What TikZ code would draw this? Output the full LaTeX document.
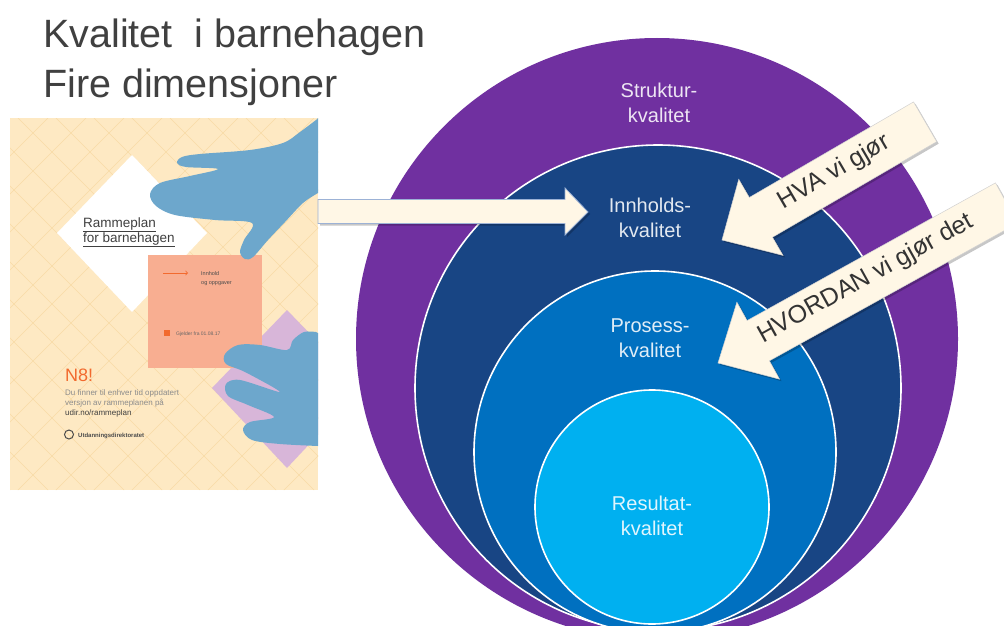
\documentclass[tikz,border=0pt]{standalone}
\usepackage{fontspec}
\setmainfont{Liberation Sans}
\definecolor{purp}{HTML}{7030A0}
\definecolor{dblue}{HTML}{184584}
\definecolor{mblue}{HTML}{0070C0}
\definecolor{lblue}{HTML}{00B0F0}
\definecolor{cream}{HTML}{FFF7E6}
\definecolor{coverc}{HTML}{FEE9C3}
\definecolor{gridc}{HTML}{F8DBA6}
\definecolor{handc}{HTML}{6DA7CC}
\definecolor{salmon}{HTML}{F8AE91}
\definecolor{lilac}{HTML}{D8B6D9}
\definecolor{orangec}{HTML}{F26A2E}
\definecolor{titlec}{HTML}{404040}
\definecolor{arrline}{HTML}{9CB2D6}
\tikzset{
  lab/.style={text=white, text opacity=0.88, font=\fontsize{20}{25}\selectfont, inner sep=0pt, anchor=base},
  arrtxt/.style={text=black!80, font=\fontsize{25}{28}\selectfont, inner sep=0pt},
  tiny/.style={inner sep=0pt, anchor=base west},
  ring/.style={draw=white, line width=1.6pt},
  arrfill/.style={fill=cream, draw=black!18, line width=0.5pt},
  arrshadow/.style={fill=black, opacity=0.22}
}
\begin{document}
\begin{tikzpicture}[x=1pt,y=-1pt]
\useasboundingbox (0,0) rectangle (1004,626);
\clip (0,0) rectangle (1004,626);
\fill[white] (0,0) rectangle (1004,626);

% title
\node[tiny, text=titlec, font=\fontsize{39.5}{45}\selectfont] (t1) at (43,48) {Kvalitet\ \ i barnehagen};
\node[tiny, text=titlec, font=\fontsize{39.5}{45}\selectfont] (t2) at (43,97) {Fire dimensjoner};

% nested circles
\fill[purp] (657,339) circle (301pt);
\filldraw[fill=dblue, ring] (658,388) circle (243pt);
\filldraw[fill=mblue, ring] (655,452) circle (181pt);
\filldraw[fill=lblue, ring] (652,507) circle (117pt);

\node[lab] (s1) at (659,97) {Struktur-};
\node[lab] (s2) at (659,122) {kvalitet};
\node[lab] (i1) at (650,212) {Innholds-};
\node[lab] (i2) at (650,237) {kvalitet};
\node[lab] (p1) at (650,332) {Prosess-};
\node[lab] (p2) at (650,357) {kvalitet};
\node[lab] (r1) at (652,510) {Resultat-};
\node[lab] (r2) at (652,535) {kvalitet};

% book cover
\begin{scope}
\clip (10,118) rectangle (318,490);
\fill[coverc] (10,118) rectangle (318,490);
\foreach \k in {-400,-362,...,330} {
  \draw[gridc, line width=0.6pt] (\k,118) -- ++(372,372);
  \draw[gridc, line width=0.6pt] (\k+372,118) -- ++(-372,372);
}
\fill[white] (132,155) -- (57,233) -- (132,312) -- (207,233) -- cycle;
\fill[lilac] (287,310) -- (212,388) -- (287,468) -- (362,388) -- cycle;
\fill[salmon] (148,255) rectangle (262,368);
% upper hand
\fill[handc] (318,192) -- (318,118) -- plot[smooth, tension=0.55] coordinates {
  (316,120) (300,132) (283,143) (250,150) (200,154) (182,157) (177,163) (186,167)
  (218,169) (190,176) (160,183) (150,194) (156,206) (175,215) (215,220) (252,223)
  (244,240) (240,252) (245,259) (253,257) (268,240) (285,222) (303,203) (318,193)} -- cycle;
% lower hand
\fill[handc] (318,446) -- (318,333) -- plot[smooth, tension=0.55] coordinates {
  (316,332) (304,332) (293,340) (287,350) (260,345) (238,345) (225,354) (226,364)
  (245,372) (280,392) (240,380) (226,384) (228,396) (248,405) (274,417) (250,422)
  (243,430) (252,440) (280,444) (318,446)} -- cycle;
\end{scope}

\node[tiny, text=black!75, font=\fontsize{13.5}{15}\selectfont] (rp1) at (83,227) {\underline{Rammeplan}};
\node[tiny, text=black!75, font=\fontsize{13.5}{15}\selectfont] (rp2) at (83,242) {\underline{for barnehagen}};
\draw[orangec, line width=0.8pt, ->] (163,273) -- (188,273);
\node[tiny, text=black!70, font=\fontsize{5.5}{6}\selectfont] (ih1) at (201,275) {Innhold};
\node[tiny, text=black!70, font=\fontsize{5.5}{6}\selectfont] (ih2) at (201,284) {og oppgaver};
\fill[orangec] (164,330) rectangle (170,336);
\node[tiny, text=black!60, font=\fontsize{5}{6}\selectfont] (gj) at (176,335.5) {Gjelder fra 01.08.17};
\node[tiny, text=orangec, font=\fontsize{18}{18}\selectfont] (nb) at (65,381) {N8!};
\node[tiny, text=black!45, font=\fontsize{8}{9}\selectfont] (d1) at (65,395) {Du finner til enhver tid oppdatert};
\node[tiny, text=black!45, font=\fontsize{8}{9}\selectfont] (d2) at (65,405) {versjon av rammeplanen på};
\node[tiny, text=black!75, font=\fontsize{8}{9}\selectfont] (d3) at (65,415) {udir.no/rammeplan};
\draw[black!70, line width=1pt] (69,434.5) circle (4.5pt);
\node[tiny, text=black!70, font=\bfseries\fontsize{6}{7}\selectfont] (ud) at (78,437) {Utdanningsdirektoratet};

% horizontal arrow
\fill[arrshadow] (590,214) -- (567,190) -- (567,201.5) -- (320,201.5) -- (320,225.5) -- (567,225.5) -- (567,237) -- cycle;
\filldraw[fill=cream, draw=arrline, line width=0.8pt] (588,212) -- (565,188) -- (565,199.5) -- (318,199.5) -- (318,223.5) -- (565,223.5) -- (565,235) -- cycle;

% diagonal arrow 1
\begin{scope}[shift={(724,242)}, rotate=30.2]
\fill[arrshadow] (0,0) -- (45,44) -- (45,23) -- (235,23) -- (235,-23) -- (45,-23) -- (45,-44) -- cycle;
\end{scope}
\begin{scope}[shift={(722,240)}, rotate=30.2]
\filldraw[arrfill] (0,0) -- (45,44) -- (45,23) -- (235,23) -- (235,-23) -- (45,-23) -- (45,-44) -- cycle;
\node[arrtxt, rotate=30.2] (hva) at (131,-2) {HVA vi gjør};
\end{scope}

% diagonal arrow 2
\begin{scope}[shift={(720,365)}, rotate=29]
\fill[arrshadow] (0,0) -- (46,44) -- (46,23) -- (330,23) -- (330,-23) -- (46,-23) -- (46,-44) -- cycle;
\end{scope}
\begin{scope}[shift={(718,363)}, rotate=29]
\filldraw[arrfill] (0,0) -- (46,44) -- (46,23) -- (330,23) -- (330,-23) -- (46,-23) -- (46,-44) -- cycle;
\node[arrtxt, rotate=29] (hvordan) at (170,-2) {HVORDAN vi gjør det};
\end{scope}
\end{tikzpicture}
\end{document}
